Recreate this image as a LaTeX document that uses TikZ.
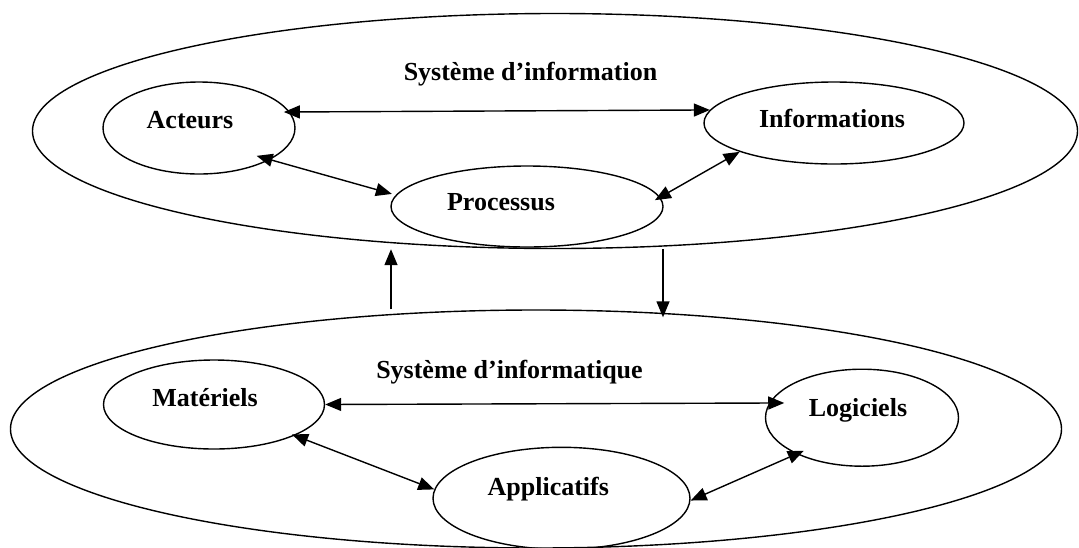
\documentclass[tikz,border=0pt]{standalone}
\usepackage{fontspec}
\setmainfont{Liberation Serif}
\usetikzlibrary{shapes.geometric,arrows.meta}
\begin{document}
\begin{tikzpicture}[x=1pt,y=-1pt,
  ell/.style={draw, ellipse, inner sep=0pt, line width=1.4pt},
  lbl/.style={font=\bfseries\fontsize{26}{30}\selectfont, anchor=base, inner sep=0pt},
  tip/.tip={Triangle[length=16pt,width=13pt]},
  link/.style={line width=1.4pt, tip-tip},
  one/.style={line width=1.4pt, -tip}]
\useasboundingbox (0,0) rectangle (1079,547);
% containers
\node[ell, minimum width=1045pt, minimum height=235pt] (si) at (555,131) {};
\node[ell, minimum width=1051pt, minimum height=238pt] (sinf) at (536,429) {};
% inner ellipses
\node[ell, minimum width=192pt, minimum height=92pt] (acteurs) at (199,128) {};
\node[ell, minimum width=260pt, minimum height=82pt] (informations) at (834,123) {};
\node[ell, minimum width=272pt, minimum height=81pt] (processus) at (527,206.5) {};
\node[ell, minimum width=221pt, minimum height=89pt] (materiels) at (214,404.5) {};
\node[ell, minimum width=193pt, minimum height=97pt] (logiciels) at (862,417.7) {};
\node[ell, minimum width=257pt, minimum height=102pt] (applicatifs) at (561.5,498.3) {};
% labels
\node[lbl] (tsi) at (530.5,80.7) {Système d’information};
\node[lbl] (tsinf) at (509.5,378.3) {Système d’informatique};
\node[lbl] (tacteurs) at (190,128.3) {Acteurs};
\node[lbl] (tinformations) at (832,127.7) {Informations};
\node[lbl] (tprocessus) at (501,210.7) {Processus};
\node[lbl] (tmateriels) at (205,406.7) {Matériels};
\node[lbl] (tlogiciels) at (858,416.7) {Logiciels};
\node[lbl] (tapplicatifs) at (548.3,495) {Applicatifs};
% connectors
\draw[link, shorten <=-6pt] (acteurs.10.6) -- (informations.174.6);
\draw[link, shorten <=-14pt, shorten >=4pt] (acteurs.-24.2) -- (processus.175.6);
\draw[link, shorten <=-6pt] (processus.4.6) -- (informations.-163);
\coordinate (upx) at (391,0);
\coordinate (dnx) at (663,0);
\draw[one] (upx |- sinf.north) -- (upx |- si.south);
\draw[one, shorten >=-8pt] (dnx |- si.south) -- (dnx |- sinf.north);
\draw[link, shorten >=-15pt] (materiels.east) -- (logiciels.171.8);
\draw[link, shorten <=-3pt] (materiels.-21.4) -- (applicatifs.176.6);
\draw[link, shorten >=-8pt] (applicatifs.-1) -- (logiciels.-151.6);
\end{tikzpicture}
\end{document}
